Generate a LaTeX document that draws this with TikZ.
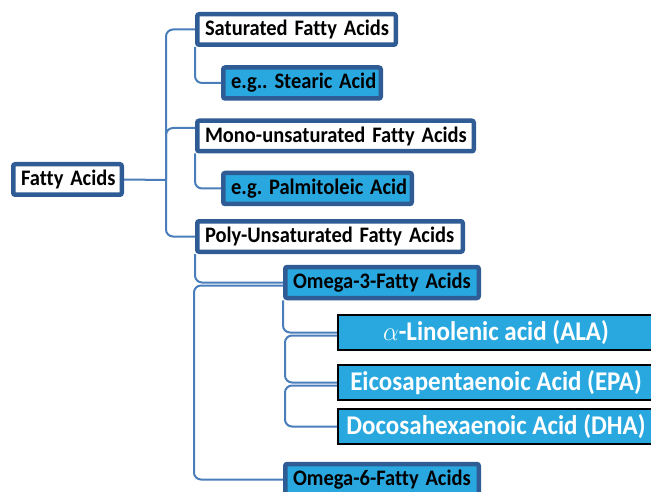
\documentclass[tikz,border=0pt]{standalone}
\usepackage{fontspec}
\usepackage{graphicx}
\setmainfont{Carlito}[Ligatures=NoCommon]
\frenchspacing
\newcommand{\tallt}[1]{\scalebox{1}[1.08]{#1}}
\begin{document}
\begin{tikzpicture}[x=1pt,y=-1pt,
  lvl/.style={draw=bdr, line width=4.5pt, rounded corners=2pt, fill=white,
    font=\bfseries\fontsize{20.5}{24}\selectfont, inner xsep=7.75pt, inner ysep=0pt,
    minimum height=30.5pt, align=left},
  sub/.style={lvl, fill=cyanfill, minimum height=31pt},
  leaf/.style={draw=black, line width=2pt, fill=cyanfill, text=white,
    font=\bfseries\fontsize{25}{29}\selectfont, inner sep=0pt,
    minimum width=316pt, minimum height=35pt},
  conn/.style={draw=linec, line width=2pt, rounded corners=7pt}
]
\definecolor{bdr}{RGB}{47,92,148}
\definecolor{cyanfill}{RGB}{41,168,224}
\definecolor{linec}{RGB}{74,126,187}
\useasboundingbox (0,0) rectangle (651,492);

\node[lvl, text width=93pt] (fa) at (67.5,179.5) {\tallt{Fatty Acids}};
\node[lvl, text width=183pt] (sat) at (296.5,29.5) {\tallt{Saturated Fatty Acids}};
\node[sub, text width=142pt] (stear) at (302,83) {\tallt{e.g.. Stearic Acid}};
\node[lvl, text width=261pt] (mono) at (335.5,136) {\tallt{Mono-unsaturated Fatty Acids}};
\node[sub, text width=173pt] (palm) at (317.5,188.5) {\tallt{e.g. Palmitoleic Acid}};
\node[lvl, text width=250pt] (poly) at (330,236.5) {\tallt{Poly-Unsaturated Fatty Acids}};
\node[sub, text width=178pt] (o3) at (382,282.5) {\tallt{Omega-3-Fatty Acids}};
\node[leaf] (ala) at (496,332.5) {\tallt{$\alpha$-Linolenic acid (ALA)}};
\node[leaf] (epa) at (496,382.5) {\tallt{Eicosapentaenoic Acid (EPA)}};
\node[leaf] (dha) at (496,426.5) {\tallt{Docosahexaenoic Acid (DHA)}};
\node[sub, text width=178pt] (o6) at (382,479.5) {\tallt{Omega-6-Fatty Acids}};

\coordinate (spine) at (166,180);
\draw[conn] (fa.east) -- (spine);
\draw[conn] (sat.west) -| (spine);
\draw[conn] ([yshift=8pt]mono.west) -| (spine);
\draw[conn] (poly.west) -| (spine);

\draw[conn] (sat.south west) |- (stear.west);
\draw[conn] (mono.south west) |- (palm.west);
\draw[conn] (poly.south west) |- (o3.west);
\draw[conn] ([yshift=-3pt]o3.west) -- ++(-89,0) |- (o6.west);

\draw[conn] (o3.south west) |- (ala.west);
\draw[conn] ([yshift=-3pt]ala.west) -- ++(-52,0) |- (epa.west);
\draw[conn] ([yshift=-3pt]epa.west) -- ++(-52,0) |- (dha.west);
\end{tikzpicture}
\end{document}
